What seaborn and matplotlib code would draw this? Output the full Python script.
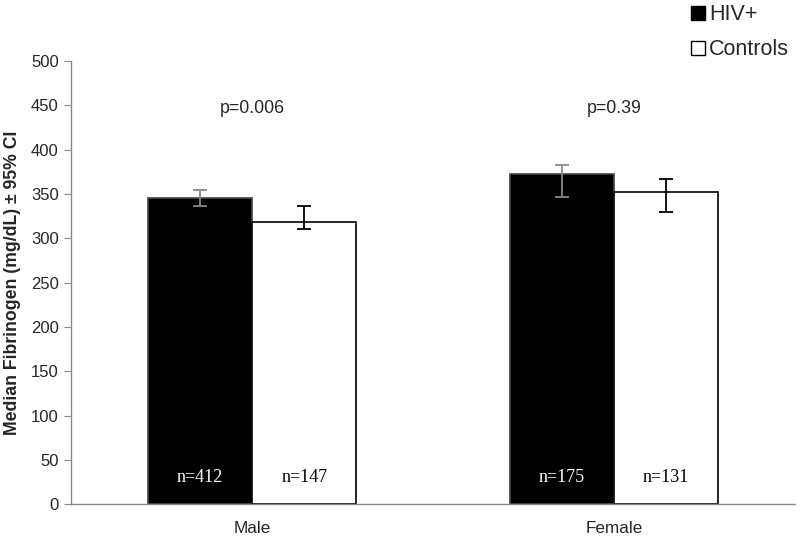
import matplotlib
matplotlib.use("Agg")
import matplotlib.pyplot as plt
import seaborn as sns
import pandas as pd
from matplotlib.patches import Patch

# Data
sexes = ["Male", "Female"]
groups = ["HIV+", "Controls"]
medians = {"HIV+": [345, 373], "Controls": [319, 352]}
ci_low = {"HIV+": [337, 347], "Controls": [311, 330]}
ci_high = {"HIV+": [355, 383], "Controls": [337, 367]}
n_labels = {"HIV+": ["n=412", "n=175"], "Controls": ["n=147", "n=131"]}
p_values = ["p=0.006", "p=0.39"]
yticks = [0, 50, 100, 150, 200, 250, 300, 350, 400, 450, 500]

rows = []
for g in groups:
    for i, s in enumerate(sexes):
        rows.append({"Sex": s, "Group": g, "Median": medians[g][i]})
df = pd.DataFrame(rows)

sns.set_style("white")
plt.rcParams["font.family"] = ["Liberation Sans", "DejaVu Sans"]

fig = plt.figure(figsize=(8, 5.41), dpi=100)
ax = fig.add_axes([0.089, 0.068, 0.905, 0.819])

palette = {"HIV+": "black", "Controls": "white"}
sns.barplot(data=df, x="Sex", y="Median", hue="Group", order=sexes,
            hue_order=groups, palette=palette, width=0.575, gap=0,
            errorbar=None, ax=ax, legend=False, saturation=1)

edge = {"HIV+": "#444444", "Controls": "black"}
err_col = {"HIV+": "#888888", "Controls": "black"}
for gi, g in enumerate(groups):
    cont = ax.containers[gi]
    for i, bar in enumerate(cont):
        bar.set_edgecolor(edge[g])
        bar.set_linewidth(1.2)
        xc = bar.get_x() + bar.get_width() / 2
        m = medians[g][i]
        ax.errorbar(xc, m, yerr=[[m - ci_low[g][i]], [ci_high[g][i] - m]],
                    fmt="none", ecolor=err_col[g], elinewidth=1.3,
                    capsize=5, capthick=1.3, zorder=5)
        ax.text(xc, 30, n_labels[g][i], ha="center", va="center",
                fontsize=13, family=["Liberation Serif", "DejaVu Serif"],
                color="white" if g == "HIV+" else "black")

for i, p in enumerate(p_values):
    ax.text(i, 446, p, ha="center", va="center", fontsize=12.8)

ax.set_ylim(0, 500)
ax.set_xlim(-0.5, 1.5)
ax.set_yticks(yticks)
ax.set_yticklabels([str(t) for t in yticks], fontsize=12)
ax.set_xticks([0, 1])
ax.set_xticklabels(sexes, fontsize=12.3)
ax.set_xticks([0.5, 1.5], minor=True)
ax.tick_params(axis="x", which="major", length=0, pad=12)
ax.tick_params(axis="x", which="minor", length=5, color="#888888", direction="out")
ax.tick_params(axis="y", length=5, color="#888888", direction="out", left=True, pad=4)
ax.set_xlabel("")
ax.set_ylabel("Median Fibrinogen (mg/dL) ± 95% CI", fontsize=12.7,
              fontweight="bold", labelpad=7)
for side in ["top", "right"]:
    ax.spines[side].set_visible(False)
for side in ["left", "bottom"]:
    ax.spines[side].set_color("#888888")
    ax.spines[side].set_linewidth(1)

handles = [Patch(facecolor="black", edgecolor="black", label="HIV+"),
           Patch(facecolor="white", edgecolor="black", label="Controls")]
fig.legend(handles=handles, loc="upper left", bbox_to_anchor=(0.847, 1.016),
           frameon=False, fontsize=15.5, handlelength=0.65, handleheight=0.65,
           handletextpad=0.2, labelspacing=0.65, borderaxespad=0.2)

fig.savefig("out.png", dpi=100)
